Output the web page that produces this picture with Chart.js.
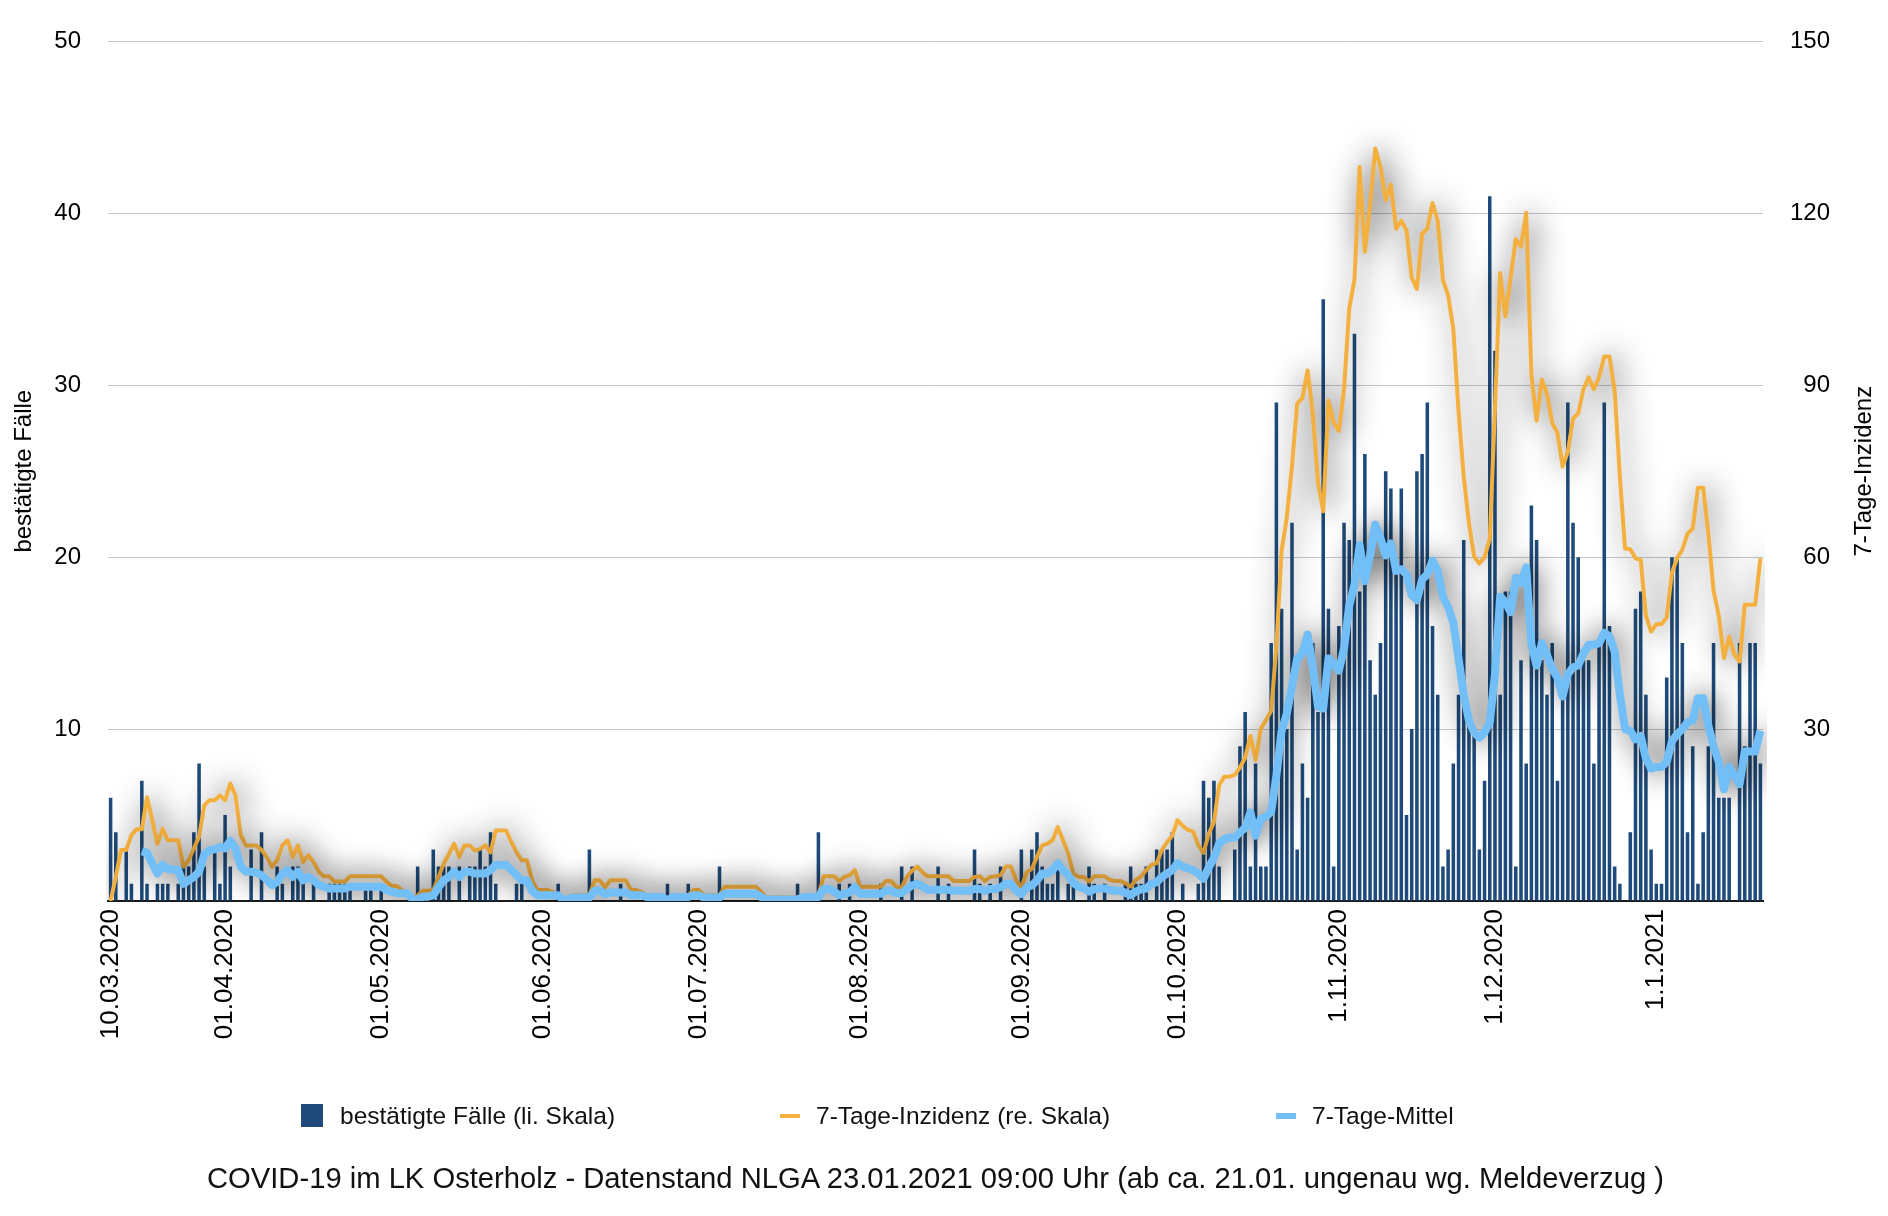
<!DOCTYPE html>
<html>
<head>
<meta charset="utf-8">
<title>COVID-19 im LK Osterholz</title>
<script src="https://cdn.jsdelivr.net/npm/chart.js@4.4.1/dist/chart.umd.min.js"></script>
<style>
  body { margin: 0; background: #fff; font-family: "Liberation Sans", Arial, sans-serif; color: #111; }
  #wrap { position: relative; width: 1888px; height: 1216px; }
  #chart { position: absolute; left: 0; top: 0; }
  .lg { position: absolute; top: 1102px; font-size: 24.5px; line-height: 28px; white-space: nowrap; }
  .mark { position: absolute; }
  #title { position: absolute; left: 207px; top: 1161px; font-size: 29.2px; line-height: 34px; white-space: nowrap; }
</style>
</head>
<body>
<div id="wrap">
  <canvas id="chart" width="1888" height="1216"></canvas>
  <div class="mark" style="left:301px;top:1104px;width:22px;height:23px;background:#1e4b7b"></div>
  <div class="lg" style="left:340px">bestätigte Fälle (li. Skala)</div>
  <div class="mark" style="left:780px;top:1114px;width:20px;height:4px;background:#f4b03f"></div>
  <div class="lg" style="left:816px">7-Tage-Inzidenz (re. Skala)</div>
  <div class="mark" style="left:1276px;top:1113px;width:20px;height:6px;background:#72bef6"></div>
  <div class="lg" style="left:1312px">7-Tage-Mittel</div>
  <div id="title">COVID-19 im LK Osterholz - Datenstand NLGA 23.01.2021 09:00 Uhr (ab ca. 21.01. ungenau wg. Meldeverzug )</div>
</div>
<script>
// daily values from 10.03.2020
var cases = [
  6,4,0,3,1,0,7,1,0,1,  1,1,0,1,2,2,4,8,2,0,  3,1,5,2,0,0,0,3,0,4,
  0,0,2,1,0,2,2,1,0,1,  0,0,1,1,1,1,1,0,0,1,  1,0,1,0,0,0,0,0,0,2,
  0,0,3,2,2,2,0,2,0,2,  2,3,2,4,1,0,0,0,1,1,  0,0,0,0,0,0,1,0,0,0,
  0,0,3,0,0,0,0,0,1,0,  0,0,0,0,0,0,0,1,0,0,  0,1,0,0,0,0,0,2,0,0,
  0,0,0,0,0,0,0,0,0,0,  0,0,1,0,0,0,4,0,0,0,  1,0,1,0,0,0,0,0,1,0,
  0,0,2,0,2,0,0,0,0,2,  0,1,0,0,0,0,3,1,0,1,  0,2,0,0,0,3,0,3,4,2,
  1,1,2,0,1,1,0,0,2,1,  0,1,0,0,0,1,2,1,1,2,  0,3,3,3,4,0,1,0,0,1,
  7,6,7,2,0,0,3,9,11,2, 8,2,2,15,29,17,10,22,3,8, 6,15,11,35,17,2,16,22,21,33,
  18,26,14,12,15,25,24,19,24,5, 10,25,26,29,16,12,2,3,8,12, 21,11,10,3,7,41,32,12,18,18,
  2,14,8,23,21,14,12,15,7,12, 29,22,20,14,14,8,15,29,16,2, 1,0,4,17,18,12,3,1,1,13,
  20,20,15,4,9,1,4,9,15,6, 6,6,0,15,9,15,15,8
];

var incidence = [
  0,4.2,8.9,8.9,11.5,12.5,12.5,18.1,14.1,10,  12.6,10.6,10.6,10.6,6,7.1,9.2,11.2,16.7,17.6,
  17.6,18.4,17.6,20.5,18.4,11.5,9.7,9.7,9.7,8.9,  7.7,6,7.1,9.7,10.6,7.7,9.7,6.8,8,6.8,
  5.1,4.3,4.3,3.4,3.4,3.4,4.3,4.3,4.3,4.3,  4.3,4.3,4.3,3.4,2.6,2.6,1.9,1,0.5,1,
  1.8,1.8,1.9,4.2,6.5,8.2,10,7.7,9.7,9.7,  8.8,9.1,9.7,8.5,12.3,12.3,12.3,10.3,8.5,7.1,
  7.1,3.6,1.9,1.9,1.9,1.6,1,0,0.7,1,  1,1,1,3.6,3.6,2.4,3.6,3.6,3.6,3.6,
  1.9,1.9,1.6,1,1,1,1,0,1,1,  1,1,1.9,1.9,1,1,1,1,2.5,2.5,
  2.5,2.5,2.5,2.5,2.5,1.6,0.6,0.6,0.6,0.6,  0.6,0.6,0.6,1,1,1,1,4.3,4.3,4.3,
  3.5,4.2,4.5,5.4,2.5,2.5,2.5,2.5,2.5,3.5,  3.5,2.4,2.4,4.2,5.3,6,5,4.3,4.3,4.3,
  4.3,4.3,3.5,3.5,3.5,3.5,4.2,4.3,3.5,4.2,  4.3,4.5,6,6,3.6,2.4,5,5.6,7.7,9.7,
  10,10.6,12.9,10.6,8.3,4.8,4.2,4.2,3.4,4.3,  4.3,4.3,3.7,3.5,3.5,3.1,2.5,3.7,4.3,5.4,
  6.3,6.6,8.9,10.3,11.4,14.1,13.1,12.4,12.1,9.7,  8.4,11.7,13.8,20.2,21.7,21.7,22,23.3,25,28.8,
  24.6,30,31.6,33.2,44.4,61.1,66.9,75.9,86.8,87.8,  92.6,85,73,68,87.3,83.5,82,89.4,103.4,108.4,
  128.1,113.3,121.4,131.3,128.1,122.3,125,117.3,118.7,117,  108.8,106.8,116.4,117.3,121.8,118.7,108.4,105.7,99.8,85.5,
  74,66,60.1,58.9,60,63.2,86,109.6,102,108.7,  115.5,114.2,120.1,91.8,83.8,91,88.5,83.4,81.7,75.8,
  78.4,84.2,85.1,89.3,91.4,89.3,91.4,95,95,89,  74,61.5,61.4,59.8,59.5,49.8,47,48.3,48.3,49.5,
  57.3,59.8,61.3,64.1,65,72.1,72.1,64.1,54.2,49.8,  42.4,46.1,43,41.8,51.7,51.7,51.7,59.8
];

var mean7 = [
  null,null,null,null,null,null,2.9,2.8,2.2,1.6,  2.1,1.85,1.85,1.8,1.0,1.2,1.4,1.7,2.7,2.95,
  3.0,3.15,3.05,3.5,3.05,2.0,1.7,1.7,1.65,1.5,  1.25,0.93,1.1,1.55,1.8,1.4,1.7,1.2,1.4,1.2,
  0.93,0.83,0.73,0.73,0.73,0.73,0.83,0.83,0.83,0.83,  0.83,0.83,0.83,0.64,0.55,0.45,0.45,0.45,0.1,0.1,
  0.25,0.25,0.33,0.8,1.2,1.4,1.7,1.4,1.7,1.7,  1.6,1.6,1.6,1.8,2.1,2.1,2.1,1.8,1.5,1.2,
  1.2,0.6,0.33,0.33,0.33,0.33,0.33,0.04,0.13,0.2,  0.2,0.2,0.2,0.6,0.6,0.4,0.5,0.5,0.5,0.5,
  0.33,0.33,0.33,0.23,0.23,0.23,0.23,0.04,0.23,0.23,  0.23,0.23,0.33,0.33,0.2,0.2,0.2,0.2,0.42,0.42,
  0.42,0.42,0.42,0.42,0.42,0.23,0.08,0.08,0.08,0.08,  0.08,0.08,0.08,0.23,0.23,0.23,0.23,0.7,0.7,0.56,
  0.33,0.42,0.5,0.8,0.42,0.42,0.42,0.42,0.42,0.6,  0.6,0.46,0.46,0.7,0.9,1.0,0.85,0.65,0.65,0.65,
  0.65,0.65,0.6,0.6,0.6,0.6,0.7,0.7,0.6,0.7,  0.7,0.8,1.0,1.0,0.6,0.4,0.8,0.9,1.2,1.6,
  1.6,1.8,2.2,1.8,1.5,1.06,0.83,0.73,0.54,0.68,  0.73,0.73,0.64,0.6,0.6,0.48,0.35,0.54,0.68,0.73,
  1.0,1.1,1.4,1.6,1.8,2.2,2.0,1.9,1.8,1.6,  1.3,1.95,2.5,3.35,3.6,3.7,3.7,4.0,4.25,5.15,
  3.8,4.8,4.9,5.2,7.3,9.9,10.9,12.5,14.1,14.4,  15.5,13.6,11.3,11.2,14.1,13.8,13.4,14.7,17.2,18.4,
  20.7,18.6,20.1,21.9,21.1,20.1,20.8,19.2,19.3,19.0,  17.8,17.5,18.7,19.0,19.8,19.2,17.7,17.1,16.2,14.1,
  12.0,10.5,9.8,9.5,9.8,10.4,13.2,17.7,17.4,16.8,  18.8,18.5,19.4,14.9,13.7,15,14.3,13.5,13.0,11.9,
  13.2,13.6,13.7,14.4,14.9,14.9,15.0,15.6,15.4,14.5,  12.0,10.0,9.9,9.4,9.6,8.3,7.7,7.8,7.8,8.1,
  9.3,9.7,10,10.4,10.5,11.8,11.8,10.2,9.0,8.1,  6.5,7.8,7.3,6.8,8.7,8.7,8.7,9.9
];

// labels shown on the x axis
var tickDates = ['2020-03-10', '2020-04-01', '2020-05-01', '2020-06-01', '2020-07-01', '2020-08-01',
                 '2020-09-01', '2020-10-01', '2020-11-01', '2020-12-01', '2021-01-01'];
var tickLabels = ['10.03.2020', '01.04.2020', '01.05.2020', '01.06.2020', '01.07.2020', '01.08.2020',
                  '01.09.2020', '01.10.2020', '1.11.2020', '1.12.2020', '1.1.2021'];

var days = [];
for (var i = 0; i < cases.length; i++) {
    days.push(new Date(Date.UTC(2020, 2, 10 + i)).toISOString().slice(0, 10));
}

var font = "'Liberation Sans', Arial, sans-serif";

// grey blurred shadow under the two lines
var lineShadow = {
    id: 'lineShadow',
    beforeDatasetDraw: function (chart, args) {
        if (chart.data.datasets[args.index].type !== 'line') return;
        var ctx = chart.ctx;
        ctx.save();
        ctx.shadowColor = 'rgba(0,0,0,0.85)';
        ctx.shadowBlur = 30;
        ctx.shadowOffsetX = 4;
        ctx.shadowOffsetY = 0;
    },
    afterDatasetDraw: function (chart, args) {
        if (chart.data.datasets[args.index].type !== 'line') return;
        chart.ctx.restore();
    }
};

// right axis title reads bottom to top
var rightTitle = {
    id: 'rightTitle',
    afterDraw: function (chart) {
        var ctx = chart.ctx;
        var a = chart.chartArea;
        ctx.save();
        ctx.translate(a.right + 101, (a.top + a.bottom) / 2);
        ctx.rotate(-Math.PI / 2);
        ctx.font = '24px ' + font;
        ctx.fillStyle = '#000';
        ctx.textAlign = 'center';
        ctx.textBaseline = 'middle';
        ctx.fillText('7-Tage-Inzidenz', 0, 0);
        ctx.restore();
    }
};

var ctx = document.getElementById('chart').getContext('2d');
var chart = new Chart(ctx, {
    type: 'bar',
    data: {
        labels: days,
        datasets: [
            { type: 'line', label: '7-Tage-Mittel', data: mean7, yAxisID: 'y',
              borderColor: '#72bef6', borderWidth: 8, pointRadius: 0, tension: 0,
              borderJoinStyle: 'round', order: 0 },
            { type: 'line', label: '7-Tage-Inzidenz (re. Skala)', data: incidence, yAxisID: 'y1',
              borderColor: '#f4b03f', borderWidth: 4, pointRadius: 0, tension: 0,
              borderJoinStyle: 'round', order: 1 },
            { type: 'bar', label: 'bestätigte Fälle (li. Skala)', data: cases, yAxisID: 'y',
              backgroundColor: '#1e4b7b', barPercentage: 0.68, categoryPercentage: 1, order: 2 }
        ]
    },
    options: {
        responsive: false,
        animation: false,
        devicePixelRatio: 1,
        layout: { padding: { top: 37, left: 0, right: 58, bottom: 0 } },
        plugins: { legend: { display: false }, tooltip: { enabled: false } },
        scales: {
            x: {
                offset: true,
                grid: { display: false, drawTicks: false },
                border: { display: true, color: '#1a1a1a', width: 2 },
                ticks: {
                    autoSkip: false, maxRotation: 90, minRotation: 90, padding: 8,
                    color: '#000', font: { family: font, size: 26 },
                    callback: function (value) {
                        var k = tickDates.indexOf(this.getLabelForValue(value));
                        return k >= 0 ? tickLabels[k] : null;
                    }
                },
                afterFit: function (scale) { scale.height = 315; }
            },
            y: {
                position: 'left', min: 0, max: 50,
                grid: { color: '#c6c6c6', lineWidth: 1, drawTicks: false },
                border: { display: false },
                ticks: {
                    stepSize: 10, padding: 27, color: '#000', font: { family: font, size: 24 },
                    callback: function (v) { return v === 0 ? '' : v; }
                },
                title: { display: true, text: 'bestätigte Fälle', color: '#000',
                         font: { family: font, size: 24 }, padding: { top: 10, bottom: 0 } },
                afterFit: function (scale) { scale.width = 108; }
            },
            y1: {
                position: 'right', min: 0, max: 150,
                grid: { display: false, drawTicks: false },
                border: { display: false },
                ticks: {
                    stepSize: 30, padding: 27, crossAlign: 'far', color: '#000',
                    font: { family: font, size: 24 },
                    callback: function (v) { return v === 0 ? '' : v; }
                },
                afterFit: function (scale) { scale.width = 67; }
            }
        }
    },
    plugins: [lineShadow, rightTitle]
});
</script>
</body>
</html>
